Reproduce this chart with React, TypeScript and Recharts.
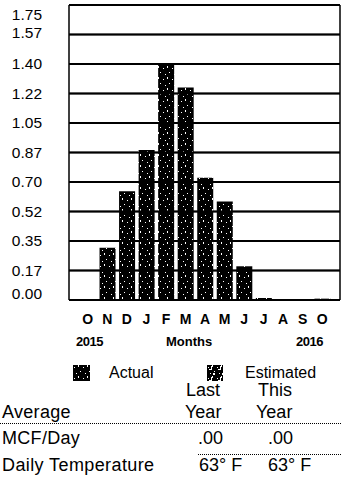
import React from "react";
import { BarChart, Bar, XAxis, YAxis, CartesianGrid } from "recharts";

// monthly usage, Oct 2015 .. Oct 2016 (MCF/day)
const months = ["O", "N", "D", "J", "F", "M", "A", "M", "J", "J", "A", "S", "O"];
const actual = [0, 0.31, 0.645, 0.89, 1.4, 1.26, 0.725, 0.585, 0.2, 0.012, 0.006, 0.006, 0.008];

const yTicks = [0, 0.175, 0.35, 0.525, 0.7, 0.875, 1.05, 1.225, 1.4, 1.575, 1.75];
const yTickLabels = ["0.00", "0.17", "0.35", "0.52", "0.70", "0.87", "1.05", "1.22", "1.40", "1.57", "1.75"];

const yearLabels = ["2015", "Months", "2016"];
const legendLabels = ["Actual", "Estimated"];
const columnHeads = [["Last", "Year"], ["This", "Year"]];
const rowLabels = ["Average", "MCF/Day", "Daily Temperature"];
const mcfPerDay = [".00", ".00"];
const dailyTemp = ["63\u00b0 F", "63\u00b0 F"];

const data = months.map((m, i) => ({ month: m, key: m + i, actual: actual[i] }));

const FONT = '"Liberation Sans", Arial, sans-serif';
const CHART_W = 341;
const AXIS_W = 69;
const PLOT_RIGHT = CHART_W - 1;

// tick label + the horizontal rule that goes with it
const YTick = (props: any) => {
  const { y, payload, index } = props;
  let dy = 5;
  if (index === 0) dy = -1;
  if (index === yTicks.length - 1) dy = 15;
  if (index === yTicks.length - 2) dy = 3;
  const thick = 2;
  return (
    <g>
      <rect x={AXIS_W} y={y - thick / 2} width={PLOT_RIGHT - AXIS_W} height={thick} fill="#000" />
      <text x={42} y={y + dy} textAnchor="end" fontSize={15.5} fontFamily={FONT} fill="#000">
        {yTickLabels[index] ?? payload.value}
      </text>
    </g>
  );
};

const XTick = (props: any) => {
  const { x, y, index } = props;
  return (
    <text x={x} y={y + 22} textAnchor="middle" fontSize={14} fontWeight="bold" fontFamily={FONT} fill="#000">
      {months[index]}
    </text>
  );
};

function Speckle({ id, light }: { id: string; light?: boolean }) {
  return (
    <pattern id={id} patternUnits="userSpaceOnUse" width="9" height="11">
      <rect width="9" height="11" fill="#000" />
      <rect x="1" y="2" width="1" height="1" fill="#fff" />
      <rect x="5" y="0" width="1" height="2" fill="#fff" />
      <rect x="7" y="6" width="1" height="1" fill="#fff" />
      <rect x="3" y="8" width="1" height="1" fill="#fff" />
      {light && (
        <>
          <rect x="2" y="4" width="3" height="1" fill="#fff" />
          <rect x="6" y="8" width="2" height="2" fill="#fff" />
          <rect x="4" y="1" width="1" height="3" fill="#fff" />
        </>
      )}
    </pattern>
  );
}

const abs = (left: number, top: number, size: number, extra: any = {}) => ({
  position: "absolute" as const,
  left,
  top,
  fontSize: size,
  lineHeight: 1,
  fontFamily: FONT,
  color: "#000",
  whiteSpace: "nowrap" as const,
  ...extra,
});

export default function App() {
  return (
    <div style={{ position: "absolute", left: 0, top: 0, width: 341, height: 484, background: "#fff", overflow: "hidden" }}>
      <BarChart
        width={CHART_W}
        height={330}
        data={data}
        margin={{ top: 5, right: 0, left: 0, bottom: 0 }}
        barSize={16}
      >
        <defs>
          <Speckle id="speckle" />
        </defs>
        <CartesianGrid vertical={false} stroke="#000" strokeWidth={1.5} />
        <YAxis
          width={AXIS_W}
          domain={[0, 1.75]}
          ticks={yTicks}
          tick={<YTick />}
          tickLine={false}
          axisLine={{ stroke: "#000", strokeWidth: 1.5 }}
          interval={0}
        />
        <YAxis
          yAxisId="frame"
          orientation="right"
          width={1}
          domain={[0, 1.75]}
          tick={false}
          tickLine={false}
          axisLine={{ stroke: "#000", strokeWidth: 1.5 }}
        />
        <XAxis
          dataKey="key"
          tick={<XTick />}
          axisLine={{ stroke: "#000", strokeWidth: 2 }}
          tickLine={false}
          tickSize={0}
          height={30}
          interval={0}
          padding={{ left: 9, right: 8 }}
        />
        <Bar dataKey="actual" fill="url(#speckle)" isAnimationActive={false} />
      </BarChart>

      <div style={abs(76, 335, 13, { fontWeight: "bold", letterSpacing: -0.5 })}>{yearLabels[0]}</div>
      <div style={abs(166, 335, 13, { fontWeight: "bold" })}>{yearLabels[1]}</div>
      <div style={abs(296, 335, 13, { fontWeight: "bold", letterSpacing: -0.5 })}>{yearLabels[2]}</div>

      <svg style={{ position: "absolute", left: 73, top: 365 }} width={17} height={16}>
        <defs>
          <Speckle id="speckleA" />
        </defs>
        <rect width={17} height={16} fill="url(#speckleA)" />
      </svg>
      <div style={abs(109, 365, 16)}>{legendLabels[0]}</div>
      <svg style={{ position: "absolute", left: 207, top: 365 }} width={16} height={16}>
        <defs>
          <Speckle id="speckleE" light />
        </defs>
        <rect width={16} height={16} fill="url(#speckleE)" />
      </svg>
      <div style={abs(245, 365, 16)}>{legendLabels[1]}</div>

      <div style={abs(186, 381, 18)}>{columnHeads[0][0]}</div>
      <div style={abs(258, 381, 18)}>{columnHeads[1][0]}</div>
      <div style={abs(2, 403, 18, { letterSpacing: 0.3 })}>{rowLabels[0]}</div>
      <div style={abs(185, 403, 18)}>{columnHeads[0][1]}</div>
      <div style={abs(256, 403, 18)}>{columnHeads[1][1]}</div>
      <div style={{ position: "absolute", left: 0, top: 423, width: 341, borderTop: "1px dotted #000" }} />
      <div style={abs(2, 429, 18, { letterSpacing: 0.3 })}>{rowLabels[1]}</div>
      <div style={abs(198, 429, 18)}>{mcfPerDay[0]}</div>
      <div style={abs(268, 429, 18)}>{mcfPerDay[1]}</div>
      <div style={{ position: "absolute", left: 198, top: 454, width: 143, borderTop: "1px dotted #000" }} />
      <div style={abs(2, 456, 18, { letterSpacing: 0.4 })}>{rowLabels[2]}</div>
      <div style={abs(199, 456, 18)}>{dailyTemp[0]}</div>
      <div style={abs(268, 456, 18)}>{dailyTemp[1]}</div>
    </div>
  );
}
